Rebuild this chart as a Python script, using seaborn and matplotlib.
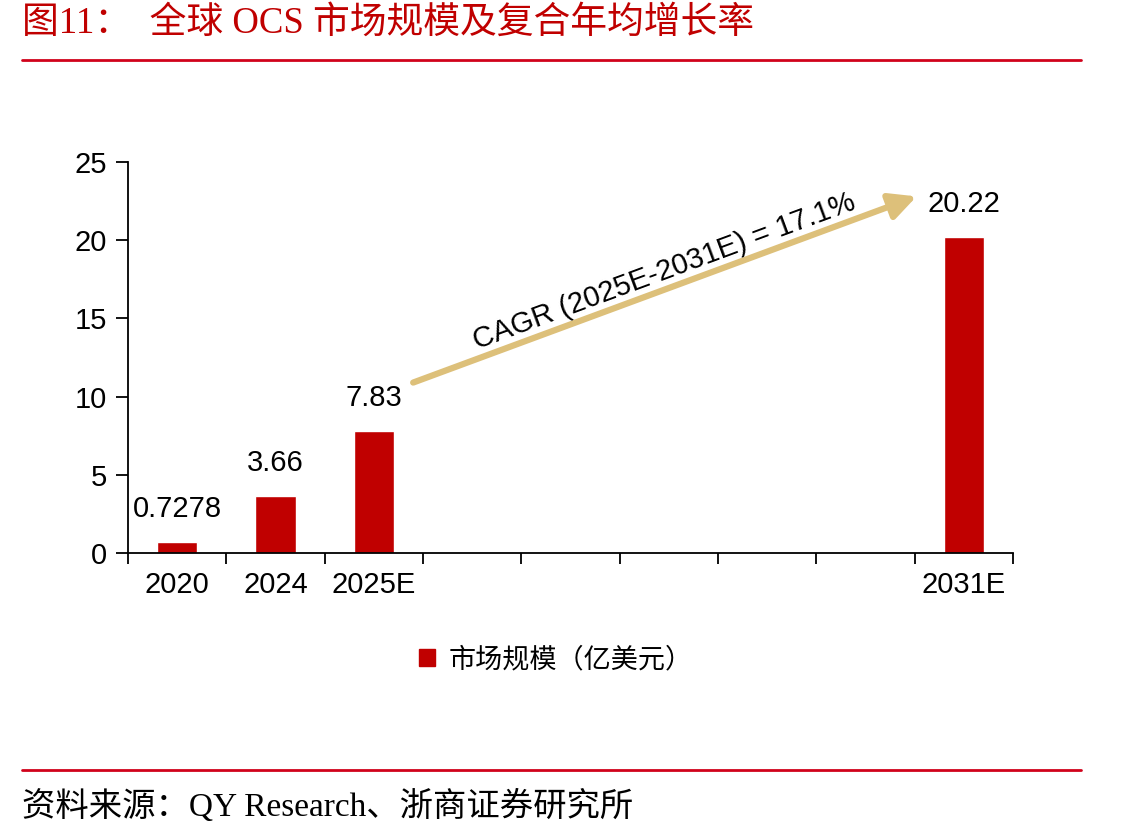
import numpy as np
import pandas as pd
import matplotlib
matplotlib.use("Agg")
import matplotlib.pyplot as plt
import seaborn as sns
from matplotlib.lines import Line2D
from matplotlib.patches import Patch

categories = ['2020', '2024', '2025E', '2026E', '2027E', '2028E', '2029E', '2030E', '2031E']
tick_labels = ['2020', '2024', '2025E', '', '', '', '', '', '2031E']
values = [0.7278, 3.66, 7.83, np.nan, np.nan, np.nan, np.nan, np.nan, 20.22]
value_labels = ['0.7278', '3.66', '7.83', '', '', '', '', '', '20.22']
series_name = '市场规模（亿美元）'
cagr_text = 'CAGR (2025E-2031E) = 17.1%'

sns.set_style('white')
plt.rcParams['font.family'] = ['Liberation Sans', 'Noto Sans CJK SC']
plt.rcParams['text.color'] = 'black'
plt.rcParams['xtick.color'] = 'black'
plt.rcParams['ytick.color'] = 'black'

red = '#C00000'
df = pd.DataFrame({'年份': categories, '规模': values})

fig = plt.figure(figsize=(11.41, 8.38), dpi=100)
ax = fig.add_axes([0.1122, 0.340, 0.7756, 0.4667])
sns.barplot(data=df, x='年份', y='规模', order=categories, color=red,
            saturation=1, width=0.41, ax=ax)

ax.set_xlim(-0.5, 8.5)
ax.set_ylim(0, 25)
ax.set_yticks([0, 5, 10, 15, 20, 25])
ax.set_xticks(range(len(categories)))
ax.set_xticklabels(tick_labels)
ax.set_xticks(np.arange(-0.5, 9, 1), minor=True)
ax.tick_params(axis='x', which='major', bottom=True, length=0, labelsize=21, pad=13)
ax.tick_params(axis='x', which='minor', bottom=True, length=8, width=1.3, direction='out')
ax.tick_params(axis='y', left=True, length=9, width=1.3, direction='out', labelsize=21, pad=6)
ax.set_xlabel('')
ax.set_ylabel('')
for s in ['top', 'right']:
    ax.spines[s].set_visible(False)
for s in ['left', 'bottom']:
    ax.spines[s].set_linewidth(1.3)
    ax.spines[s].set_color('black')

for i, (v, lab) in enumerate(zip(values, value_labels)):
    if lab:
        ax.text(i, v + 1.2, lab, ha='center', va='bottom', fontsize=21)

# CAGR arrow
ax.annotate('', xy=(7.52, 22.8), xytext=(2.4, 10.9),
            arrowprops=dict(arrowstyle='-|>,head_length=1.6,head_width=0.8',
                            color='#DDC07A', lw=4.5, shrinkA=0, shrinkB=0))
ax.text(4.95, 18.0, cagr_text, rotation=20.3, rotation_mode='anchor',
        ha='center', va='center', fontsize=21)

leg = fig.legend(handles=[Patch(color=red, label=series_name)], loc='center',
                 bbox_to_anchor=(0.487, 0.212), frameon=False, fontsize=19.5,
                 handlelength=0.6, handleheight=0.6, handletextpad=0.5)

# header / footer
fig.text(0.019, 0.972, '图11：  全球 OCS 市场规模及复合年均增长率', color=red,
         fontsize=26.5, va='center', ha='left',
         family=['Liberation Serif', 'Noto Sans CJK SC'])
fig.add_artist(Line2D([0.019, 0.947], [0.928, 0.928], color='#D0021B', lw=2))
fig.add_artist(Line2D([0.019, 0.947], [0.081, 0.081], color='#D0021B', lw=2))
fig.text(0.019, 0.038, '资料来源：QY Research、浙商证券研究所', color='black',
         fontsize=24, va='center', ha='left',
         family=['Liberation Serif', 'Noto Sans CJK SC'])

fig.savefig('out.png', dpi=100)
